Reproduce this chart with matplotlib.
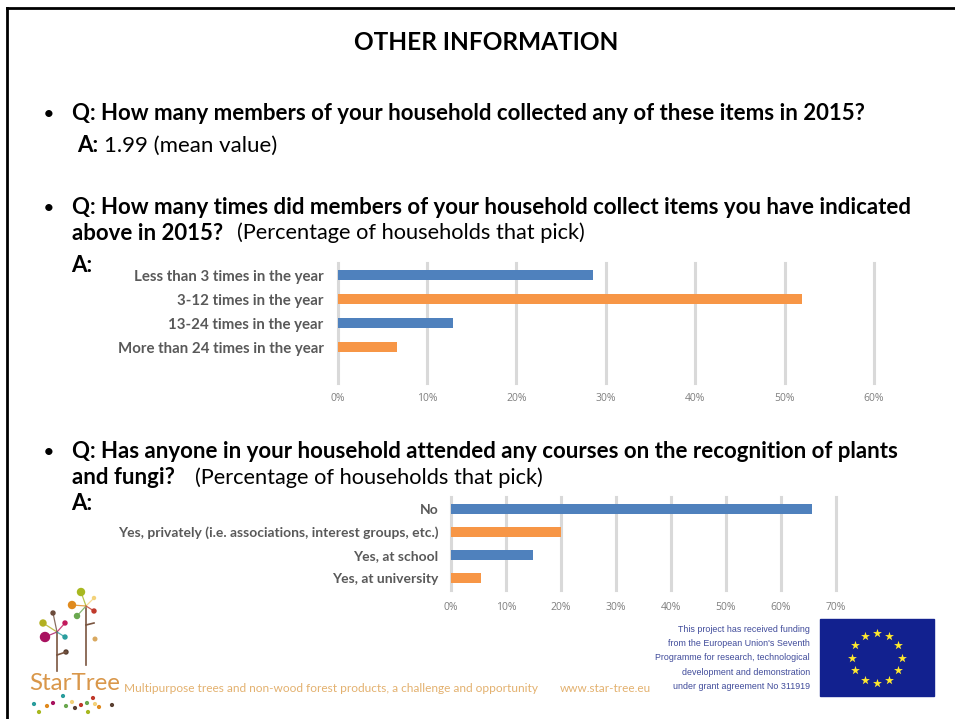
import matplotlib
matplotlib.use('Agg')
import matplotlib.pyplot as plt
from matplotlib.patches import Rectangle, Circle

plt.rcParams['font.family'] = ['Lato', 'DejaVu Sans']

W, H = 955, 719

freq_labels = ['Less than 3 times in the year', '3-12 times in the year',
               '13-24 times in the year', 'More than 24 times in the year']
freq_values = [28.6, 52.0, 12.9, 6.6]
course_labels = ['No', 'Yes, privately (i.e. associations, interest groups, etc.)',
                 'Yes, at school', 'Yes, at university']
course_values = [65.6, 20.0, 14.9, 5.5]
freq_ticks = [0, 10, 20, 30, 40, 50, 60]
course_ticks = [0, 10, 20, 30, 40, 50, 60, 70]

blue = '#4f81bd'
orange = '#f79646'
grid = '#d9d9d9'
label_col = '#595959'
tick_col = '#7f7f7f'

fig = plt.figure(figsize=(W / 100, H / 100), dpi=100)

# page layer in pixel coordinates
bg = fig.add_axes([0, 0, 1, 1])
bg.set_xlim(0, W)
bg.set_ylim(H, 0)
bg.axis('off')
bg.plot([7, 7], [719, 8], color='black', lw=2)
bg.plot([7, 955], [8, 8], color='black', lw=2)


def txt(x, y, s, size=16.05, weight='normal', color='black', ha='left', **kw):
    bg.text(x, y, s, fontsize=size, fontweight=weight, color=color, ha=ha, va='center', **kw)


txt(486, 43, 'OTHER INFORMATION', size=17.6, weight='bold', ha='center')

txt(44, 114, '•', size=12, weight='bold')
txt(72, 114, 'Q: How many members of your household collected any of these items in 2015?', weight='bold')
txt(77, 146, 'A:', weight='bold')
txt(104, 146, '1.99 (mean value)')

txt(44, 208, '•', size=12, weight='bold')
txt(72, 208, 'Q: How many times did members of your household collect items you have indicated', weight='bold')
txt(72, 233, 'above in 2015?', weight='bold')
txt(237, 233, '(Percentage of households that pick)', size=15.7)
txt(71, 266, 'A:', weight='bold')

txt(44, 452, '•', size=12, weight='bold')
txt(72, 452, 'Q: Has anyone in your household attended any courses on the recognition of plants', weight='bold')
txt(72, 478, 'and fungi?', weight='bold')
txt(195, 478, '(Percentage of households that pick)', size=15.7)
txt(71, 503, 'A:', weight='bold')


def bar_chart(x0, x1, y0, y1, labels, values, ticks, slots, tick_y, label_size, label_pad):
    ax = fig.add_axes([x0 / W, 1 - y1 / H, (x1 - x0) / W, (y1 - y0) / H])
    ax.patch.set_alpha(0)
    ypos = list(range(len(labels)))
    colors = [blue if i % 2 == 0 else orange for i in ypos]
    ax.barh(ypos, values, height=0.43, color=colors, zorder=3)
    ax.set_xlim(ticks[0], ticks[-1])
    ax.set_ylim(slots - 0.5, -0.5)
    ax.set_yticks(ypos, labels, fontsize=label_size, fontweight='bold', color=label_col)
    ax.set_xticks(ticks, [f'{t}%' for t in ticks], fontsize=7.5, color=tick_col, family='Open Sans')
    ax.tick_params(length=0)
    ax.tick_params(axis='y', pad=label_pad)
    ax.tick_params(axis='x', pad=tick_y - y1 - 7)
    ax.grid(axis='x', color=grid, lw=2.2, zorder=0)
    for s in ax.spines.values():
        s.set_visible(False)
    for line in ax.get_xgridlines():
        line.set_clip_on(False)
    return ax


bar_chart(337.5, 874, 263, 383, freq_labels, freq_values, freq_ticks, 5, 397, 10.8, 10)
bar_chart(451, 836, 497, 590, course_labels, course_values, course_ticks, 4, 606, 10, 9)

# StarTree logo
branches = [(57, 671, 57, 632), (86, 665, 86, 608), (57, 655, 66, 652), (86, 625, 94, 623)]
for xa, ya, xb, yb in branches:
    bg.plot([xa, xb], [ya, yb], color='#7a5540', lw=1.2)
tops = [(45, 637, 4.5, '#a8115f', 57, 632), (43, 623, 3, '#b3b020', 57, 632),
        (53, 613, 2, '#6b4a3a', 57, 632), (65, 623, 2, '#c2185b', 57, 632),
        (65, 637, 2, '#2a9d9d', 57, 632), (81, 592, 3.5, '#a8b820', 86, 606),
        (72, 605, 3.5, '#e08a1e', 86, 606), (77, 616, 2.5, '#6aa84f', 86, 606),
        (94, 598, 1.5, '#f3d27a', 86, 606), (94, 611, 2, '#c0392b', 86, 606)]
for cx, cy, r, c, bx, by in tops:
    bg.plot([cx, bx], [cy, by], color=c, lw=0.9, alpha=0.8)
    bg.add_patch(Circle((cx, cy), r, color=c))
bg.add_patch(Circle((66, 652), 2, color='#5a4032'))
bg.add_patch(Circle((95, 639), 1.8, color='#d9a860'))
dots = [(34, 704, '#2a9d9d'), (39, 712, '#a8b820'), (47, 706, '#e08a1e'), (53, 703, '#a8115f'),
        (63, 696, '#2a9d9d'), (66, 706, '#6aa84f'), (72, 702, '#f3d27a'), (75, 708, '#5a4032'),
        (81, 705, '#c0392b'), (87, 703, '#6aa84f'), (93, 698, '#c0392b'), (95, 704, '#f3d27a'),
        (88, 712, '#a8b820'), (99, 707, '#e08a1e'), (112, 705, '#5a4032')]
for cx, cy, c in dots:
    bg.add_patch(Circle((cx, cy), 1.4, color=c))
txt(29, 684, 'StarTree', size=17.4, color='#d9974a')
txt(124, 688, 'Multipurpose trees and non-wood forest products, a challenge and opportunity',
    size=8.6, color='#e3b16f')
txt(560, 688, 'www.star-tree.eu', size=8.5, color='#e3b16f')

# funding text
fund_lines = ['This project has received funding', 'from the European Union\'s Seventh',
              'Programme for research, technological', 'development and demonstration',
              'under grant agreement No 311919']
for i, line in enumerate(fund_lines):
    bg.text(810, 629 + i * 14.4, line, fontsize=6.4, color='#3f4a9a', ha='right', va='center',
            family='Liberation Sans')

# EU flag
bg.add_patch(Rectangle((820, 619), 114, 77, color='#12218f', zorder=2))
star_x = [877, 889, 898, 902, 898, 889, 877, 865, 855, 852, 855, 865]
star_y = [633, 636, 645, 658, 670, 680, 683, 680, 670, 658, 645, 636]
bg.scatter(star_x, star_y, marker='*', s=45, color='#ffe92e', zorder=3, linewidths=0)

fig.savefig('out.png', dpi=100)
